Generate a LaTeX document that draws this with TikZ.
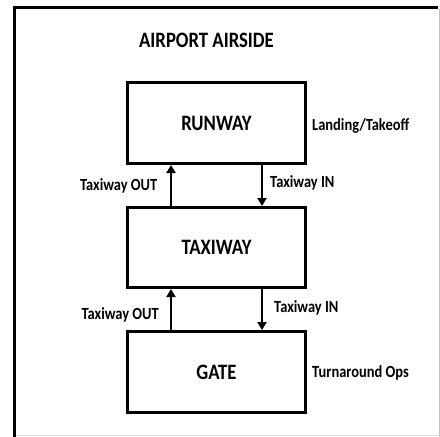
\documentclass[tikz,border=0pt]{standalone}
\usepackage{fontspec}
\setmainfont[FakeStretch=0.85]{Carlito}
\usetikzlibrary{arrows.meta}
\begin{document}
\begin{tikzpicture}[x=1pt,y=-1pt,
  box/.style={draw, line width=3pt, minimum width=178pt, minimum height=81pt, inner sep=0pt,
    font=\bfseries\fontsize{22}{26}\selectfont},
  lbl/.style={font=\bfseries\fontsize{17}{20}\selectfont, inner sep=0pt},
  arr/.style={line width=2.5pt, -{Triangle[length=8pt,width=9pt]}},
  frame/.style={line width=3pt},
  shade/.style={line width=1.2pt, color=black!25}]
\useasboundingbox (0,0) rectangle (440,437);
\fill[white] (0,0) rectangle (440,437);
% outer frame
\coordinate (f1) at (14.5,437);
\coordinate (f2) at (14.5,7.5);
\coordinate (f3) at (438,7.5);
\draw[frame] (f1) -- (f2) -- (f3);
\coordinate (s1) at (439.3,9);
\coordinate (s2) at (439.3,437);
\coordinate (s3) at (16,435.8);
\coordinate (s4) at (440,435.8);
\draw[shade] (s1) -- (s2);
\draw[shade, color=black!15] (s3) -- (s4);
% title
\node[font=\bfseries\fontsize{22}{26}\selectfont, inner sep=0pt] (title) at (206.5,40) {AIRPORT AIRSIDE};
% boxes
\node[box] (runway) at (216.5,123) {RUNWAY};
\node[box, minimum height=80pt] (taxiway) at (216.5,247.5) {TAXIWAY};
\node[box] (gate) at (216.5,372) {GATE};
% arrows
\draw[arr] ([xshift=-45.5pt]taxiway.north) -- ([xshift=-45.5pt]runway.south);
\draw[arr] ([xshift=45.5pt]runway.south) -- ([xshift=45.5pt]taxiway.north);
\draw[arr] ([xshift=-45.5pt]gate.north) -- ([xshift=-45.5pt]taxiway.south);
\draw[arr] ([xshift=45.5pt]taxiway.south) -- ([xshift=45.5pt]gate.north);
% labels
\node[lbl, anchor=base west] (land) at (312,130.5) {Landing/Takeoff};
\node[lbl, anchor=base east] (out1) at (157.5,190) {Taxiway OUT};
\node[lbl, anchor=base west] (in1) at (270,187) {Taxiway IN};
\node[lbl, anchor=base east] (out2) at (159,319) {Taxiway OUT};
\node[lbl, anchor=base west] (in2) at (274,312) {Taxiway IN};
\node[lbl, anchor=base west] (turn) at (312,377) {Turnaround Ops};
\end{tikzpicture}
\end{document}
